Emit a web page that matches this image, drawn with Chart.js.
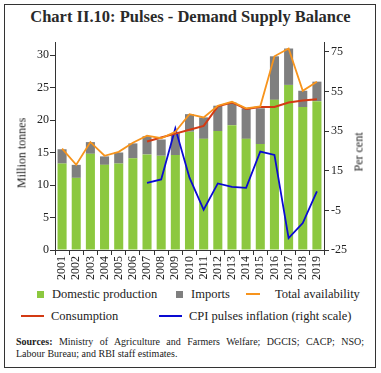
<!DOCTYPE html>
<html lang="en">
<head>
    <meta charset="UTF-8">
    <title>Chart II.10: Pulses - Demand Supply Balance</title>
    <script src="https://cdn.jsdelivr.net/npm/chart.js"></script>
    <style>
        body {
            margin: 0;
            background: #fff;
            font-family: "Liberation Serif", serif;
            color: #222;
        }
        #frame {
            position: relative;
            width: 381px;
            height: 373px;
        }
        #box {
            position: absolute;
            left: 4px; top: 4px;
            width: 370px; height: 362px;
            border: 1.5px solid #333;
        }
        h1 {
            position: absolute;
            left: 0; top: 7px;
            width: 381px;
            margin: 0;
            text-align: center;
            font-size: 16.5px;
            font-weight: bold;
            color: #2a2a2a;
        }
        canvas {
            position: absolute;
            left: 8px; top: 30px;
        }
        .ytitle {
            position: absolute;
            font-size: 12px;
            font-weight: normal;
            white-space: nowrap;
            transform: translate(-50%, -50%) rotate(-90deg);
        }
        .leg {
            position: absolute;
            font-size: 12.5px;
            white-space: nowrap;
            line-height: 14px;
        }
        .sq { display: inline-block; width: 7px; height: 7px; margin-right: 8px; }
        .ln { display: inline-block; height: 2px; vertical-align: middle; margin-right: 7px; position: relative; top: -1px; }
        .src {
            position: absolute;
            left: 16px;
            width: 348px;
            font-size: 10px;
            line-height: 12px;
            white-space: nowrap;
        }
        .src.first { text-align: justify; text-align-last: justify; white-space: normal; }
    </style>
</head>
<body>
<div id="frame">
    <div id="box"></div>
    <h1>Chart II.10: Pulses - Demand Supply Balance</h1>
    <canvas id="pulsesChart" width="365" height="255"></canvas>
    <div class="ytitle" style="left:22px; top:153px;">Million tonnes</div>
    <div class="ytitle" style="left:359px; top:152px;">Per cent</div>

    <div class="leg" style="left:37px; top:287px;"><span class="sq" id="lg0"></span>Domestic production</div>
    <div class="leg" style="left:176px; top:287px;"><span class="sq" id="lg1"></span>Imports</div>
    <div class="leg" style="left:246px; top:287px;"><span class="ln" id="lg2" style="width:14px; margin-right:15px;"></span>Total availability</div>
    <div class="leg" style="left:21px; top:309px;"><span class="ln" id="lg3" style="width:23px;"></span>Consumption</div>
    <div class="leg" style="left:159px; top:309px;"><span class="ln" id="lg4" style="width:23px;"></span>CPI pulses inflation (right scale)</div>

    <div class="src first" style="top:336px;"><b>Sources:</b> Ministry of Agriculture and Farmers Welfare; DGCIS; CACP; NSO;</div>
    <div class="src" style="top:348px;">Labour Bureau; and RBI staff estimates.</div>
</div>

<script>
    // years
    const years = ['2001','2002','2003','2004','2005','2006','2007','2008','2009','2010',
                   '2011','2012','2013','2014','2015','2016','2017','2018','2019'];

    // million tonnes
    const domestic = [13.3, 11.1, 14.8, 13.1, 13.3, 14.1, 14.7, 14.5, 14.6, 18.2,
                      17.1, 18.3, 19.2, 17.1, 16.3, 23.1, 25.4, 22.0, 22.9];
    const imports  = [2.2, 2.0, 1.8, 1.3, 1.7, 2.3, 2.8, 2.5, 3.4, 2.7,
                      3.3, 3.9, 3.5, 4.7, 5.5, 6.7, 5.6, 2.5, 3.0];
    const totalAvail = [15.6, 13.1, 16.6, 14.5, 15.1, 16.5, 17.6, 17.2, 18.2, 20.9,
                        20.4, 22.2, 22.8, 21.8, 22.1, 29.8, 31.0, 24.5, 25.9];
    const consumption = [null, null, null, null, null, null, 16.7, 17.3, 17.9, 18.5,
                         19.1, 22.1, 22.7, 21.7, 22.0, 22.0, 22.7, 23.0, 23.2];

    // per cent, right scale
    const cpiInflation = [null, null, null, null, null, null, 8.9, 10.6, 36.4, 11.5,
                          -4.7, 8.6, 6.9, 6.4, 24.7, 23.0, -19.0, -11.4, 4.6];

    const leftTicks = [0, 5, 10, 15, 20, 25, 30];
    const rightTicks = [-25, -5, 15, 35, 55, 75];

    const colors = {
        domestic: '#8cc83f',
        imports: '#7f7f7f',
        total: '#f7941d',
        cons: '#d33a13',
        cpi: '#0a0ad2'
    };

    document.getElementById('lg0').style.background = colors.domestic;
    document.getElementById('lg1').style.background = colors.imports;
    document.getElementById('lg2').style.background = colors.total;
    document.getElementById('lg3').style.background = colors.cons;
    document.getElementById('lg4').style.background = colors.cpi;

    const tickFont = { family: 'Liberation Serif', size: 12 };

    new Chart(document.getElementById('pulsesChart'), {
        type: 'bar',
        data: {
            labels: years,
            datasets: [
                {
                    label: 'Domestic production',
                    data: domestic,
                    backgroundColor: colors.domestic,
                    stack: 'supply',
                    order: 1,
                    yAxisID: 'y'
                },
                {
                    label: 'Imports',
                    data: imports,
                    backgroundColor: colors.imports,
                    stack: 'supply',
                    order: 1,
                    yAxisID: 'y'
                },
                {
                    type: 'line',
                    label: 'Total availability',
                    data: totalAvail,
                    borderColor: colors.total,
                    borderWidth: 1.8,
                    pointRadius: 0,
                    tension: 0,
                    stack: 'avail',
                    order: 0,
                    yAxisID: 'y'
                },
                {
                    type: 'line',
                    label: 'Consumption',
                    data: consumption,
                    borderColor: colors.cons,
                    borderWidth: 2,
                    pointRadius: 0,
                    tension: 0,
                    stack: 'cons',
                    order: 0,
                    yAxisID: 'y'
                },
                {
                    type: 'line',
                    label: 'CPI pulses inflation (right scale)',
                    data: cpiInflation,
                    borderColor: colors.cpi,
                    borderWidth: 1.8,
                    pointRadius: 0,
                    tension: 0,
                    order: 0,
                    yAxisID: 'y2'
                }
            ]
        },
        options: {
            responsive: false,
            animation: false,
            layout: { padding: { top: 12, left: 0, right: 0, bottom: 0 } },
            datasets: {
                bar: { categoryPercentage: 1, barPercentage: 0.64 }
            },
            plugins: {
                legend: { display: false },
                tooltip: { enabled: false }
            },
            scales: {
                x: {
                    stacked: true,
                    grid: { display: true, drawOnChartArea: false, offset: true, tickLength: 5, color: '#333' },
                    border: { color: '#333', width: 1 },
                    ticks: { color: '#222', font: tickFont, minRotation: 90, maxRotation: 90, padding: 1, autoSkip: false },
                    afterFit: s => { s.height = 35; }
                },
                y: {
                    position: 'left',
                    stacked: true,
                    min: 0,
                    max: 32,
                    grid: { display: true, drawOnChartArea: false, tickLength: 5, color: '#333' },
                    border: { color: '#333', width: 1 },
                    ticks: { color: '#222', font: tickFont, padding: 1 },
                    afterBuildTicks: s => { s.ticks = leftTicks.map(v => ({ value: v })); },
                    afterFit: s => { s.width = 47; }
                },
                y2: {
                    position: 'right',
                    min: -25,
                    max: 80,
                    grid: { display: true, drawOnChartArea: false, tickLength: 5, color: '#333' },
                    border: { color: '#333', width: 1 },
                    ticks: { color: '#222', font: tickFont, padding: 2 },
                    afterBuildTicks: s => { s.ticks = rightTicks.map(v => ({ value: v })); },
                    afterFit: s => { s.width = 49; }
                }
            }
        }
    });
</script>
</body>
</html>
